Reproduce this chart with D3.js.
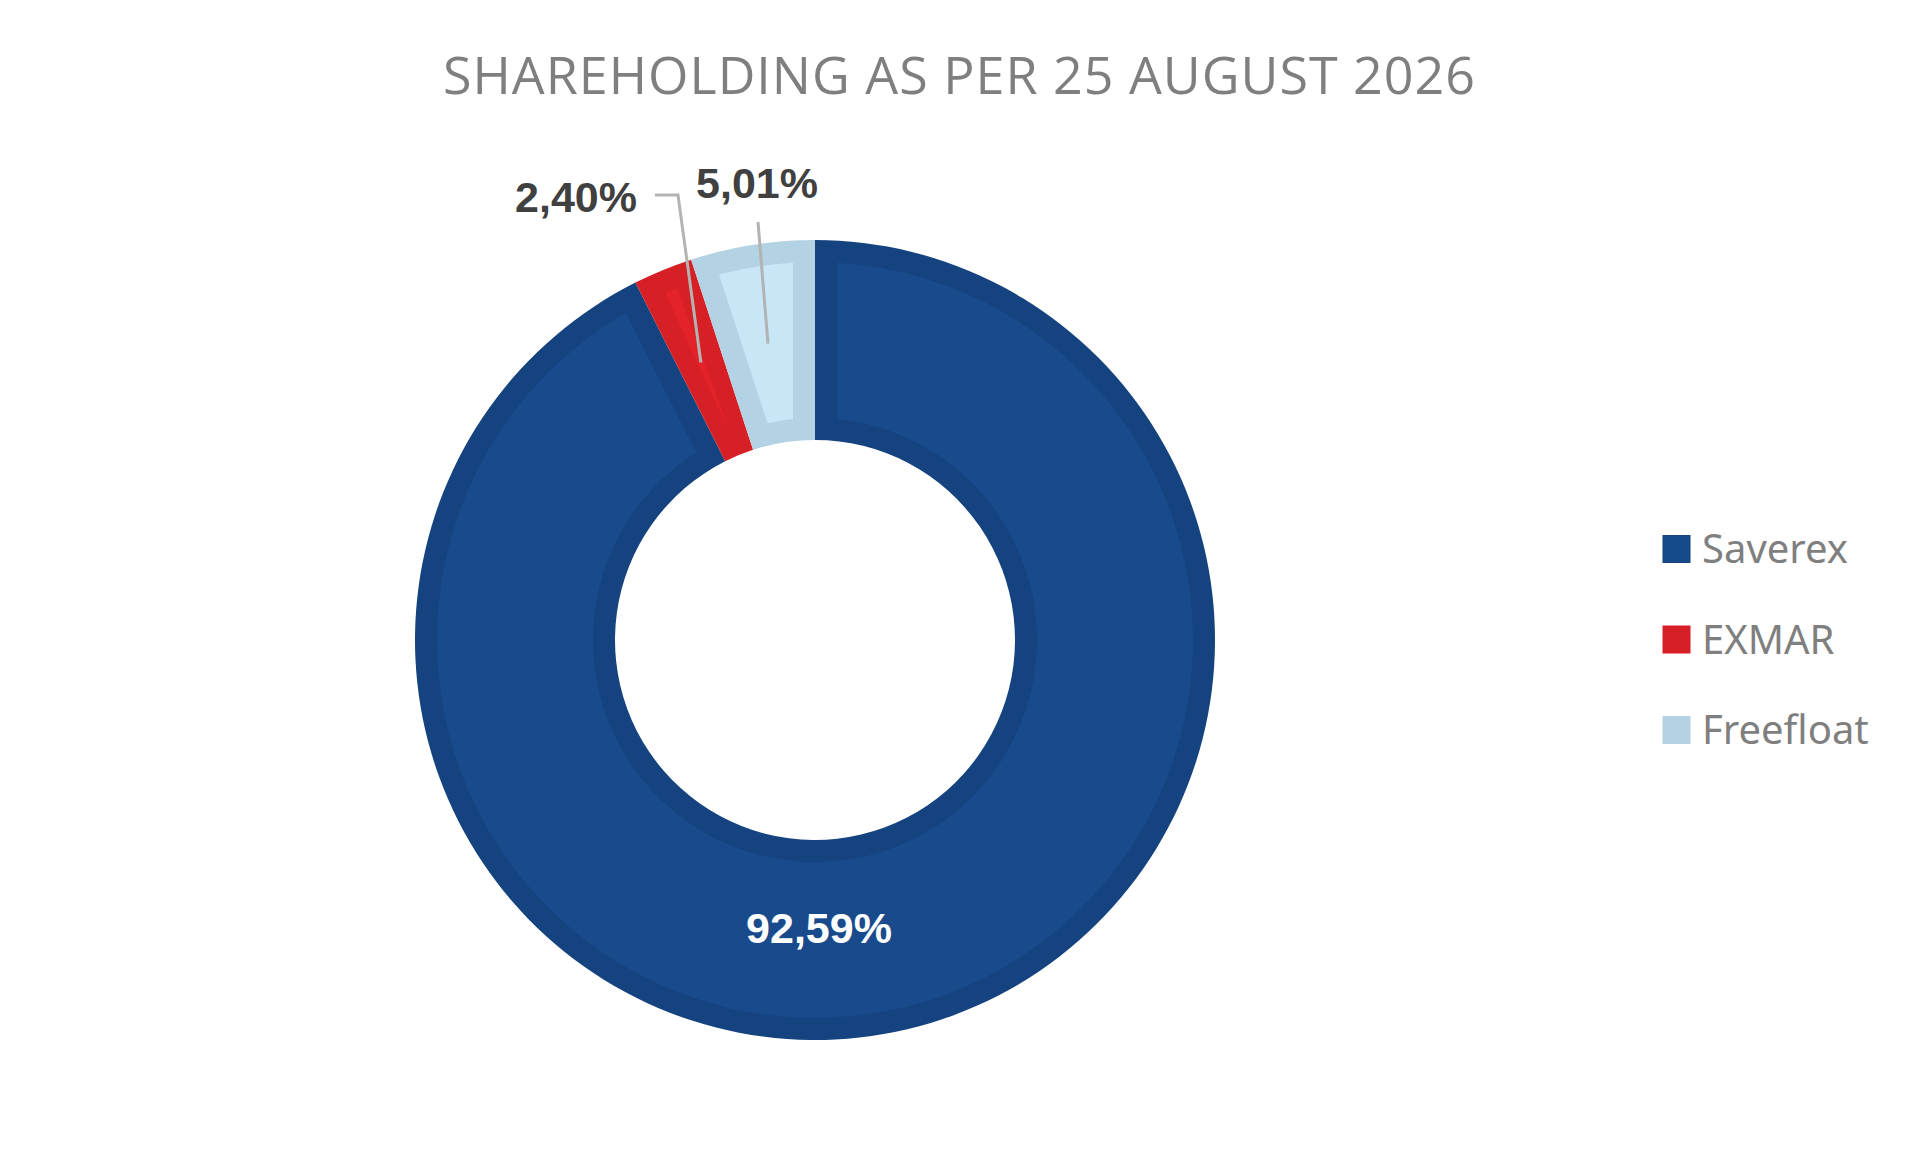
<!DOCTYPE html>
<html>
<head>
<meta charset="utf-8">
<script src="https://cdn.jsdelivr.net/npm/d3@7"></script>
<style>
  html, body { margin: 0; padding: 0; background: #fff; }
  svg { display: block; }
</style>
</head>
<body>
<svg id="chart"></svg>
<script>
// shareholding data
const holders = ["Saverex", "EXMAR", "Freefloat"];
const shares = [92.59, 2.40, 5.01];
const shareLabels = ["92,59%", "2,40%", "5,01%"];
const fillColors = ["#174a8b", "#d71f26", "#b3d3e4"];
const innerColors = ["#184a8c", "#e3222a", "#c7e6f6"];
const edgeColors = ["#15437f", "#d71f26", "#b3d3e4"];
const title = "SHAREHOLDING AS PER 25 AUGUST 2026";

const width = 1920, height = 1156;
const cx = 815, cy = 640;
const outerR = 400, innerR = 200;

const svg = d3.select("#chart")
  .attr("width", width)
  .attr("height", height);

svg.append("text")
  .attr("x", 959)
  .attr("y", 94)
  .attr("text-anchor", "middle")
  .attr("font-family", "Open Sans, sans-serif")
  .attr("font-size", 52)
  .attr("fill", "#7f7f7f")
  .attr("textLength", 1032)
  .attr("lengthAdjust", "spacing")
  .text(title);

const data = holders.map((h, i) => ({ name: h, value: shares[i], label: shareLabels[i], i: i }));

const pie = d3.pie()
  .value(d => d.value)
  .sort(null);

const arcs = pie(data);

const arc = d3.arc()
  .innerRadius(innerR)
  .outerRadius(outerR);

// inset arc to fake the bevel look
const insetArc = d3.arc()
  .innerRadius(innerR + 22)
  .outerRadius(outerR - 22)
  .padRadius(300)
  .padAngle(44 / 300);

const g = svg.append("g").attr("transform", "translate(" + cx + "," + cy + ")");

g.selectAll("path.slice")
  .data(arcs)
  .enter().append("path")
  .attr("class", "slice")
  .attr("d", arc)
  .attr("fill", d => edgeColors[d.data.i]);

g.selectAll("path.inset")
  .data(arcs)
  .enter().append("path")
  .attr("class", "inset")
  .attr("d", insetArc)
  .attr("fill", d => innerColors[d.data.i]);

// label layout, relative to centre (Excel style placement)
const labelPos = [
  { x: 4, y: 303, anchor: "middle", fill: "#ffffff", bend: null },
  { x: -178, y: -428, anchor: "end", fill: "#404040", bend: [[-160, -445], [-137, -445]] },
  { x: -58, y: -442, anchor: "middle", fill: "#404040", bend: [[-57, -418]] }
];

const mid = d3.arc().innerRadius(innerR).outerRadius(outerR);

arcs.forEach(d => {
  const lp = labelPos[d.data.i];
  if (lp.bend) {
    const c = mid.centroid(d);
    g.append("path")
      .attr("d", d3.line()(lp.bend.concat([c])))
      .attr("fill", "none")
      .attr("stroke", "#b3b3b3")
      .attr("stroke-width", 3);
  }
  g.append("text")
    .attr("x", lp.x)
    .attr("y", lp.y)
    .attr("text-anchor", lp.anchor)
    .attr("font-family", "Liberation Sans, Arial, sans-serif")
    .attr("font-weight", "bold")
    .attr("font-size", 43)
    .attr("fill", lp.fill)
    .text(d.data.label);
});

// legend
const legendY = d3.scalePoint()
  .domain(holders)
  .range([549, 730]);

const legend = svg.append("g");

legend.selectAll("rect")
  .data(holders)
  .enter().append("rect")
  .attr("x", 1663)
  .attr("y", d => legendY(d) - 13.5)
  .attr("width", 27)
  .attr("height", 27)
  .attr("fill", (d, i) => fillColors[i])
  .attr("stroke", (d, i) => edgeColors[i])
  .attr("stroke-width", 1);

legend.selectAll("text")
  .data(holders)
  .enter().append("text")
  .attr("x", 1702)
  .attr("y", d => legendY(d) + 14)
  .attr("font-family", "Noto Sans, sans-serif")
  .attr("font-size", 40)
  .attr("fill", "#7f7f7f")
  .text(d => d);
</script>
</body>
</html>
